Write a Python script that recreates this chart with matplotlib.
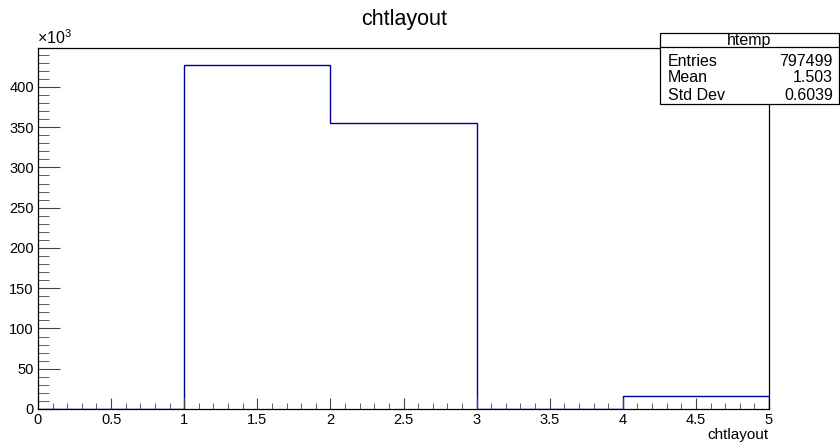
import matplotlib
matplotlib.use("Agg")
import matplotlib.pyplot as plt
from matplotlib.patches import Rectangle
from matplotlib.ticker import FuncFormatter, MultipleLocator

# data
bin_edges = [0, 1, 2, 3, 4, 5]
bin_counts = [0, 427000, 354700, 0, 15799]
stats_labels = ["Entries", "Mean", "Std Dev"]
stats_values = ["797499", "1.503", "0.6039"]
hist_name = "htemp"
var_name = "chtlayout"

plt.rcParams["font.family"] = ["Liberation Sans", "DejaVu Sans"]

W, H = 840, 442
fig = plt.figure(figsize=(W / 100, H / 100), dpi=100)


def fx(px):
    return px / W


def fy(py):
    return 1 - py / H


ax = fig.add_axes([fx(38), fy(409), fx(769) - fx(38), fy(48) - fy(409)])
ax.stairs(bin_counts, bin_edges, color="#000099", lw=1.0, baseline=0)

ax.set_xlim(0, 5)
ax.set_ylim(0, 1.05 * max(bin_counts))
ax.xaxis.set_major_locator(MultipleLocator(0.5))
ax.xaxis.set_minor_locator(MultipleLocator(0.1))
ax.yaxis.set_major_locator(MultipleLocator(50000))
ax.yaxis.set_minor_locator(MultipleLocator(10000))
ax.xaxis.set_major_formatter(FuncFormatter(lambda v, p: f"{v:g}"))
ax.yaxis.set_major_formatter(FuncFormatter(lambda v, p: f"{v / 1000:g}"))

ax.tick_params(axis="both", which="both", direction="in", labelsize=10.5, color="#444444")
ax.tick_params(axis="x", which="major", length=8, pad=3)
ax.tick_params(axis="x", which="minor", length=4)
ax.tick_params(axis="y", which="major", length=16, pad=3)
ax.tick_params(axis="y", which="minor", length=8)
for s in ax.spines.values():
    s.set_linewidth(0.9)

fig.text(fx(404), fy(19), var_name, ha="center", va="center", fontsize=15.5)
fig.text(fx(769), fy(435), var_name, ha="right", va="center", fontsize=11)
fig.text(fx(37), fy(47), r"$\mathregular{\times10^{3}}$", ha="left", va="bottom", fontsize=11.5)

# stats box
bx0, by0, bx1, by1 = 660, 33, 839, 104
fig.patches.append(Rectangle((fx(bx0), fy(by1)), fx(bx1) - fx(bx0), fy(by0) - fy(by1),
                             transform=fig.transFigure, facecolor="white",
                             edgecolor="black", lw=0.9, zorder=5))
fig.add_artist(plt.Line2D([fx(bx0), fx(bx1)], [fy(47), fy(47)],
                          transform=fig.transFigure, color="black", lw=0.9, zorder=6))
fig.text(fx((bx0 + bx1) / 2), fy(40.5), hist_name, ha="center", va="center",
         fontsize=11.5, zorder=7)
for i, (lab, val) in enumerate(zip(stats_labels, stats_values)):
    yy = fy(61 + 17 * i)
    fig.text(fx(668), yy, lab, ha="left", va="center", fontsize=11.5, zorder=7)
    fig.text(fx(833), yy, val, ha="right", va="center", fontsize=11.5, zorder=7)

fig.savefig("out.png", dpi=100)
